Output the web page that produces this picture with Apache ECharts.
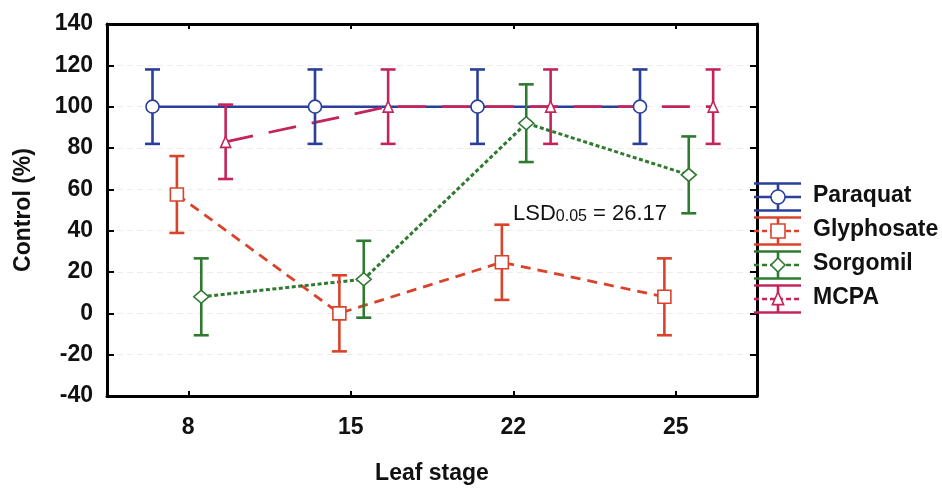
<!DOCTYPE html>
<html><head><meta charset="utf-8">
<script src="https://cdn.jsdelivr.net/npm/echarts@6/dist/echarts.min.js"></script>
<style>html,body{margin:0;padding:0;background:#fff}#c{width:942px;height:492px}</style>
</head><body><div id="c"></div>
<script>
// ---- data ----
const categories = ['8', '15', '22', '25'];
const seriesNames = ['Paraquat', 'Glyphosate', 'Sorgomil', 'MCPA'];
const paraquat = [100, 100, 100, 100];
const paraquatErr = [18, 18, 18, 18];
const glyphosate = [57.5, 0, 24.7, 8];
const glyphosateErr = [18.6, 18.4, 18.2, 18.6];
const sorgomil = [8, 16.5, 92, 67];
const sorgomilErr = [18.6, 18.6, 18.8, 18.6];
const mcpa = [83, 100, 100, 100];
const mcpaErr = [18, 18, 18, 18];
const yMin = -40, yMax = 140, yStep = 20;
const xTitle = 'Leaf stage';
const yTitle = 'Control (%)';
const lsdValue = '26.17';

// ---- styles ----
const values = [paraquat, glyphosate, sorgomil, mcpa];
const errors = [paraquatErr, glyphosateErr, sorgomilErr, mcpaErr];
const colors = ['#2a3f9c', '#d9432c', '#2f7a30', '#c4245c'];
const dodge = [-0.22, -0.07, 0.08, 0.23];
const symbols = ['circle', 'rect', 'diamond', 'triangle'];
const symSizes = [13, 13, [15, 13], [10, 11]];
const dashes = ['solid', [10, 7], [4, 2.5], [28, 16]];
const lineWidths = [2.5, 2.8, 3, 2.8];
const FONT = '"Liberation Sans", Arial, sans-serif';

const series = [];
seriesNames.forEach((name, s) => {
  const pts = values[s].map((v, i) => [i + dodge[s], v]);
  series.push({
    name, type: 'line', xAxisIndex: 2, yAxisIndex: 0, data: pts,
    showSymbol: false, symbol: 'none', z: 2 + s * 0.1, silent: true,
    lineStyle: { color: colors[s], width: lineWidths[s], type: dashes[s] }
  });
});
seriesNames.forEach((name, s) => {
  const eb = values[s].map((v, i) => [i + dodge[s], v - errors[s][i], v + errors[s][i]]);
  series.push({
    type: 'custom', xAxisIndex: 2, yAxisIndex: 0, data: eb, z: 5, silent: true,
    renderItem: (params, api) => {
      const x = api.value(0);
      const lo = api.coord([x, api.value(1)]);
      const hi = api.coord([x, api.value(2)]);
      const hw = 7.5;
      const st = { stroke: colors[s], lineWidth: 2.6 };
      return { type: 'group', children: [
        { type: 'line', shape: { x1: lo[0], y1: lo[1], x2: hi[0], y2: hi[1] }, style: st },
        { type: 'line', shape: { x1: hi[0] - hw, y1: hi[1], x2: hi[0] + hw, y2: hi[1] }, style: st },
        { type: 'line', shape: { x1: lo[0] - hw, y1: lo[1], x2: lo[0] + hw, y2: lo[1] }, style: st }
      ]};
    }
  });
});
seriesNames.forEach((name, s) => {
  const pts = values[s].map((v, i) => [i + dodge[s], v]);
  series.push({
    type: 'scatter', xAxisIndex: 2, yAxisIndex: 0, data: pts, z: 8, silent: true,
    symbol: symbols[s], symbolSize: symSizes[s],
    itemStyle: { color: '#fff', borderColor: colors[s], borderWidth: 1.6, opacity: 1 }
  });
});

// ---- legend drawn as graphic ----
const graphics = [];
const lgX0 = 754, lgX1 = 801, lgXc = 778, lgY0 = 197, lgDy = 34, lgHalf = 13.5;
function markerShape(s, cx, cy, r, color) {
  const style = { fill: '#fff', stroke: color, lineWidth: 1.6 };
  if (symbols[s] === 'circle') return { type: 'circle', shape: { cx, cy, r }, style, z: 102 };
  if (symbols[s] === 'rect') return { type: 'rect', shape: { x: cx - r, y: cy - r, width: 2 * r, height: 2 * r }, style, z: 102 };
  if (symbols[s] === 'diamond') return { type: 'polygon', shape: { points: [[cx, cy - r], [cx + r, cy], [cx, cy + r], [cx - r, cy]] }, style, z: 102 };
  return { type: 'polygon', shape: { points: [[cx, cy - r], [cx + r * 0.8, cy + r * 0.8], [cx - r * 0.8, cy + r * 0.8]] }, style, z: 102 };
}
seriesNames.forEach((name, s) => {
  const cy = lgY0 + s * lgDy;
  const c = colors[s];
  const st = { stroke: c, lineWidth: 2.6 };
  graphics.push({ type: 'line', shape: { x1: lgX0, y1: cy - lgHalf, x2: lgX1, y2: cy - lgHalf }, style: st, z: 100 });
  graphics.push({ type: 'line', shape: { x1: lgX0, y1: cy + lgHalf, x2: lgX1, y2: cy + lgHalf }, style: st, z: 100 });
  graphics.push({ type: 'line', shape: { x1: lgXc, y1: cy - lgHalf, x2: lgXc, y2: cy + lgHalf }, style: st, z: 100 });
  graphics.push({ type: 'line', shape: { x1: lgX0, y1: cy, x2: lgX1, y2: cy },
    style: { stroke: c, lineWidth: 2.6, lineDash: dashes[s] === 'solid' ? null : [5, 3] }, z: 100 });
  graphics.push(markerShape(s, lgXc, cy, 7, c));
  graphics.push({ type: 'text', left: 813, top: cy - 13, z: 103,
    style: { text: name, font: 'bold 23px ' + FONT, fill: '#111' } });
});
graphics.push({ type: 'text', left: 513, top: 203, z: 103,
  style: { text: '{a|LSD}{b|0.05}{a| = ' + lsdValue + '}', fill: '#111',
    rich: { a: { fontSize: 22, fontFamily: FONT, fill: '#111', verticalAlign: 'bottom' },
            b: { fontSize: 16, fontFamily: FONT, fill: '#111', padding: [9, 0, 0, 0], verticalAlign: 'bottom' } } } });

const labelStyle = { fontFamily: FONT, fontWeight: 'bold', fontSize: 23, color: '#111' };
const axisLine = { show: true, onZero: false, lineStyle: { color: '#000', width: 3 } };

const option = {
  animation: false,
  backgroundColor: '#fff',
  grid: { left: 107, top: 24, right: 185, bottom: 96, containLabel: false },
  xAxis: [
    { type: 'category', data: categories, position: 'bottom', boundaryGap: true,
      axisLine, axisTick: { show: true, inside: true, alignWithLabel: true, length: 5, lineStyle: { color: '#000', width: 2 } },
      axisLabel: Object.assign({ margin: 20 }, labelStyle), splitLine: { show: false },
      name: xTitle, nameLocation: 'middle', nameGap: 66,
      nameTextStyle: { fontFamily: FONT, fontWeight: 'bold', fontSize: 23, color: '#111' } },
    { type: 'category', data: categories, position: 'top', boundaryGap: true,
      axisLine, axisTick: { show: true, inside: true, alignWithLabel: true, length: 5, lineStyle: { color: '#000', width: 2 } },
      axisLabel: { show: false }, splitLine: { show: false } },
    { type: 'value', min: -0.5, max: 3.5, show: false, axisLine: { onZero: false } }
  ],
  yAxis: [
    { type: 'value', min: yMin, max: yMax, interval: yStep, position: 'left',
      axisLine, axisTick: { show: true, inside: true, length: 7, lineStyle: { color: '#000', width: 2 } },
      axisLabel: Object.assign({ margin: 14 }, labelStyle),
      splitLine: { show: true, lineStyle: { color: '#ececec', width: 1, type: [6, 4] } },
      name: yTitle, nameLocation: 'middle', nameGap: 72, nameRotate: 90,
      nameTextStyle: { fontFamily: FONT, fontWeight: 'bold', fontSize: 23, color: '#111' } },
    { type: 'value', min: yMin, max: yMax, interval: yStep, position: 'right',
      axisLine, axisTick: { show: true, inside: true, length: 7, lineStyle: { color: '#000', width: 2 } },
      axisLabel: { show: false }, splitLine: { show: false } }
  ],
  series,
  graphic: graphics
};
const chart = echarts.init(document.getElementById('c'), null, { renderer: 'canvas' });
chart.setOption(option);
</script></body></html>
